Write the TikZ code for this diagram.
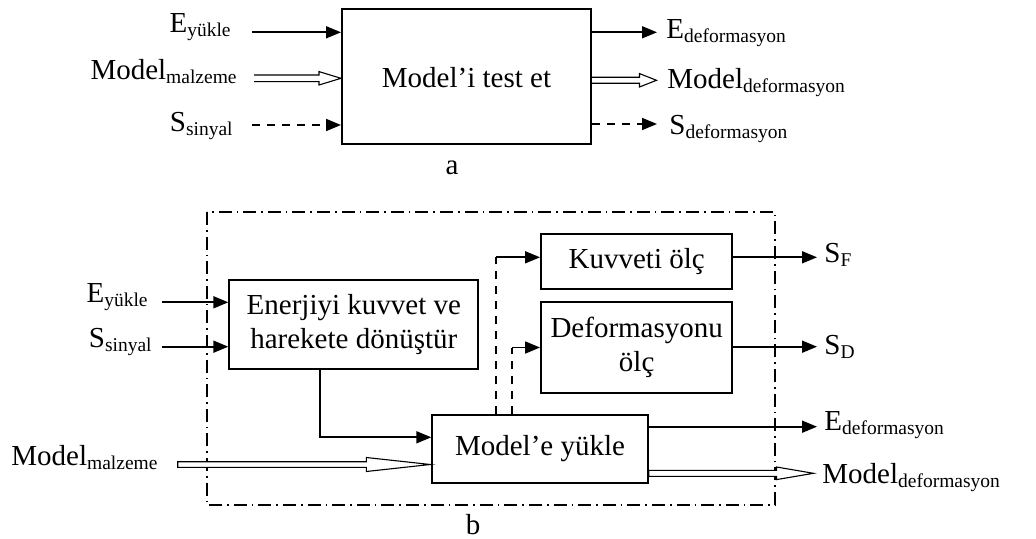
\documentclass[tikz,border=0pt]{standalone}
\usepackage{fontspec}
\setmainfont{Liberation Serif}
\usetikzlibrary{arrows.meta,calc}

% subscript-like lowered small text
\newcommand\lowtxt[1]{\raisebox{-2pt}{\fontsize{9.75}{11}\selectfont #1}}

% outlined (hollow) arrow: start, tip, head length, half body gap, half head width
\newcommand\hollowopen[5]{%
  \draw[hollow] ($(#1)+(0,-#4)$) -- ($(#2)+(-#3,-#4)$) -- ($(#2)+(-#3,-#5)$) -- (#2)
    -- ($(#2)+(-#3,#5)$) -- ($(#2)+(-#3,#4)$) -- ($(#1)+(0,#4)$);}
\newcommand\hollowclosed[5]{%
  \filldraw[hollow,fill=white] ($(#1)+(0,-#4)$) -- ($(#2)+(-#3,-#4)$) -- ($(#2)+(-#3,-#5)$) -- (#2)
    -- ($(#2)+(-#3,#5)$) -- ($(#2)+(-#3,#4)$) -- ($(#1)+(0,#4)$) -- cycle;}

\tikzset{
  block/.style={draw, line width=1pt, inner sep=0pt, align=center,
    font=\fontsize{14.5}{17.3}\selectfont},
  lbl/.style={inner sep=0pt, font=\fontsize{14.5}{17.3}\selectfont},
  arr/.style={line width=0.85pt, -{Triangle[length=7.5pt,width=6pt]}},
  dasharr/.style={arr, dash pattern=on 4pt off 3.5pt},
  dashln/.style={line width=0.85pt, dash pattern=on 4pt off 3.5pt},
  hollow/.style={line width=0.55pt, line join=miter},
  frame/.style={line width=0.75pt, dash pattern=on 6.5pt off 2.5pt on 0.8pt off 2.5pt},
}

\begin{document}
\begin{tikzpicture}[x=0.5pt,y=-0.5pt]
\useasboundingbox (0,0) rectangle (1036,539);

% ---------------- part a ----------------
\node[block, minimum width=124.5pt, minimum height=67.5pt, text height=11pt, text depth=0pt]
  (ta) at (466.5,76.5) {Model’i test et};

\node[lbl, anchor=base east] (aey) at (231,33) {E\lowtxt{yükle}};
\node[lbl, anchor=base east] (amm) at (237,80) {Model\lowtxt{malzeme}};
\node[lbl, anchor=base east] (ass) at (233,132) {S\lowtxt{sinyal}};

\node[lbl, anchor=base west] (aed) at (666,39) {E\lowtxt{deformasyon}};
\node[lbl, anchor=base west] (amd) at (667,89) {Model\lowtxt{deformasyon}};
\node[lbl, anchor=base west] (asd) at (669,135) {S\lowtxt{deformasyon}};

\coordinate (aeyS) at (252,32.3);
\coordinate (ammS) at (254,78.3);
\coordinate (assS) at (252,125);
\coordinate (aedE) at (657,32.3);
\coordinate (amdE) at (656.5,80.3);
\coordinate (asdE) at (657,124);

\draw[arr] (aeyS) -- (ta.west |- aeyS);
\coordinate (ammT) at (ta.west |- ammS);
\hollowopen{ammS}{ammT}{22}{3.3}{6.7}
\draw[dasharr] (assS) -- (ta.west |- assS);

\draw[arr] (ta.east |- aedE) -- (aedE);
\coordinate (amdS) at (ta.east |- amdE);
\hollowopen{amdS}{amdE}{17}{3}{6.7}
\draw[dasharr] (ta.east |- asdE) -- (asdE);

\node[lbl] (capa) at (452,168) {a};

% ---------------- part b ----------------
\draw[frame] (207,212) rectangle (775,505);

\node[block, minimum width=124.5pt, minimum height=44.5pt] (en) at (353.8,324.5)
  {Enerjiyi kuvvet ve\\harekete dönüştür};
\node[block, minimum width=95.65pt, minimum height=27.5pt] (kv) at (636.7,261.8) {Kuvveti ölç};
\node[block, minimum width=95.65pt, minimum height=45.2pt] (df) at (636.7,347.5) {Deformasyonu\\ölç};
\node[block, minimum width=107.7pt, minimum height=33.85pt] (my) at (540,449) {Model’e yükle};

\node[lbl, anchor=base east] (bey) at (148,302) {E\lowtxt{yükle}};
\node[lbl, anchor=base east] (bss) at (152,347) {S\lowtxt{sinyal}};
\node[lbl, anchor=base west] (bmm) at (11,465) {Model\lowtxt{malzeme}};

\node[lbl, anchor=base west] (bsf) at (824,263) {S\lowtxt{F}};
\node[lbl, anchor=base west] (bsd) at (824,354) {S\lowtxt{D}};
\node[lbl, anchor=base west] (bed) at (824,430) {E\lowtxt{deformasyon}};
\node[lbl, anchor=base west] (bmd) at (822,483) {Model\lowtxt{deformasyon}};

\coordinate (beyS) at (162,302.3);
\coordinate (bssS) at (162,346.7);
\draw[arr] (beyS) -- (en.west |- beyS);
\draw[arr] (bssS) -- (en.west |- bssS);

% energy path into the loading block
\coordinate (bend) at (320,437.3);
\draw[arr] (en.south -| bend) |- (my.west |- bend);

% material model input
\coordinate (bmmS) at (177.7,464.5);
\coordinate (bmmT) at ($(my.west |- bmmS)+(-1,0)$);
\hollowclosed{bmmS}{bmmT}{64}{2.8}{7}

% measurement branches
\coordinate (yF) at (0,257.3);
\coordinate (dF) at (496,0);
\coordinate (dD) at (512,0);
\draw[dashln] (my.north -| dF) -- (dF |- yF);
\draw[arr] (dF |- yF) -- (kv.west |- yF);
\draw[dashln] (my.north -| dD) -- (dD |- df.west);
\draw[arr] (dD |- df.west) -- (df.west);

% outputs
\coordinate (sfE) at (817,257.3);
\coordinate (sdE) at (817,346.7);
\coordinate (edE) at (817,426.7);
\coordinate (mdE) at (813.5,473.3);
\draw[arr] (kv.east |- sfE) -- (sfE);
\draw[arr] (df.east |- sdE) -- (sdE);
\draw[arr] (my.east |- edE) -- (edE);
\coordinate (mdS) at (my.east |- mdE);
\hollowclosed{mdS}{mdE}{37}{3}{6.3}

\node[lbl, anchor=base] (capb) at (473,534) {b};
\end{tikzpicture}
\end{document}
